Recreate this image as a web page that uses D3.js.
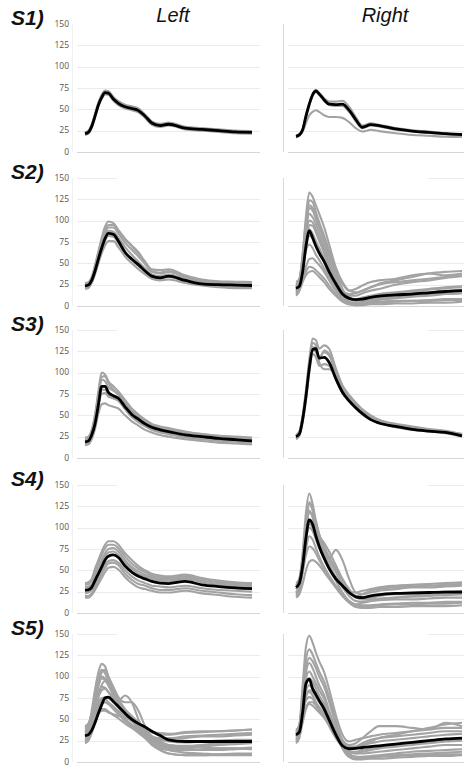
<!DOCTYPE html>
<html lang="en">
<head>
    <meta charset="UTF-8">
    <title>Left / Right traces S1-S5</title>
    <script src="https://d3js.org/d3.v7.min.js"></script>
    <style>
        body {
            margin: 0;
            background-color: #fff;
        }
        svg {
            display: block;
        }
        .tick-label {
            font-family: "Open Sans", Arial, sans-serif;
            font-size: 8.5px;
            fill: #555;
        }
        .grid {
            stroke: #ebebeb;
            stroke-width: 1px;
        }
        .trace {
            fill: none;
            stroke: #a3a3a3;
            stroke-width: 2.1px;
        }
        .mean {
            fill: none;
            stroke: #000;
            stroke-width: 2.8px;
        }
    </style>
</head>
<body>
    <div id="chart"></div>

    <script>
        // x = % of the record, shared by every trace
        const xs = [0, 2, 4, 6, 8, 10, 12, 14, 17, 20, 24, 28, 32, 36, 40, 45, 50, 60, 70, 80, 90, 100];
        const yTicks = [0, 25, 50, 75, 100, 125, 150];
        const sides = ["Left", "Right"];
        const subjects = ["S1)", "S2)", "S3)", "S4)", "S5)"];

        // S1
        const s1LeftMean = [21.5, 23, 30, 42, 55, 64, 69.5, 69, 62, 57, 53, 51, 48.5, 42, 34, 31, 32.5, 28, 26.5, 25, 23.5, 23];
        const s1LeftTraces = [
            [23, 25, 32, 45, 58, 67, 72, 71.5, 64.5, 59.5, 55.5, 53.5, 51, 44, 36, 33, 34.5, 29.5, 28, 26.5, 25, 24.5],
            [20, 21.5, 28, 40, 53, 62, 67.5, 67, 60, 55, 51, 49, 46.5, 40, 32, 29.5, 31, 26.5, 25, 23.5, 22, 21.5],
            [22, 24, 31, 43, 56, 65, 70.5, 70, 63, 58, 54, 52, 49.5, 43, 35, 32, 33.5, 29, 27.5, 26, 24.5, 24]
        ];
        const s1RightMean = [18.4, 20, 26, 42, 56, 67, 71.5, 68, 61, 56, 55.5, 56, 49, 38, 29, 32, 31, 27, 24.5, 23, 21.5, 20.5];
        const s1RightTraces = [
            [17, 19, 24, 34, 43, 47, 49, 47, 43, 41, 41, 40, 35, 28, 24, 26, 24.5, 22, 20, 19, 18, 17.5],
            [19, 21, 27, 43, 57, 68, 72.5, 69, 63, 59, 59, 60, 53, 41, 31, 33.5, 32, 28, 25.5, 24, 22, 21],
            [18, 19.5, 25, 41, 55, 66, 70.5, 67, 60, 55, 54, 54, 47, 36, 28, 31, 30, 26, 24, 22.5, 21, 20]
        ];

        // S2
        const s2LeftMean = [23.5, 24.5, 30, 41, 55, 68, 79, 85, 84, 76, 63, 55, 48.5, 41, 35, 33, 35, 30, 26, 25, 24.5, 24];
        const s2LeftTraces = [
            [26, 27, 34, 48, 64, 80, 93, 99, 97, 89, 79, 71, 63, 52, 43, 42, 43, 36, 31, 29, 28.5, 28],
            [22, 23, 29, 42, 58, 73, 85, 92, 92, 85, 74, 66, 58, 49, 40, 38, 40, 34, 29, 27, 26, 26],
            [24, 25, 31, 44, 60, 72, 82, 88, 87, 80, 69, 60, 52, 44, 37, 35, 37, 32, 28, 26, 25, 25],
            [21, 22, 27, 37, 50, 62, 71, 76, 76, 69, 58, 50, 43, 37, 32, 30, 31, 27, 24, 22, 21, 21],
            [27, 28, 33, 45, 62, 76, 88, 95, 95, 88, 78, 70, 61, 51, 41, 39, 41, 35, 30, 28, 27, 27],
            [20, 21, 28, 40, 54, 66, 77, 82, 81, 74, 62, 54, 47, 40, 34, 32, 34, 29, 25, 23, 22, 22]
        ];
        const s2RightMean = [20.8, 23, 40, 70, 88, 80, 70, 62, 52, 40, 26, 14, 9, 7.5, 8, 10, 11.5, 13, 14, 15.5, 17, 18];
        const s2RightTraces = [
            [22, 28, 60, 105, 133, 128, 118, 108, 92, 72, 45, 28, 18, 16, 18, 22, 26, 30, 34, 38, 40, 41],
            [18, 24, 52, 95, 124, 122, 110, 98, 82, 64, 40, 20, 10, 8, 10, 12, 14, 16, 18, 20, 22, 23],
            [25, 30, 55, 92, 115, 112, 102, 92, 76, 58, 36, 18, 12, 12, 15, 18, 20, 25, 28, 30, 33, 35],
            [15, 20, 45, 85, 108, 104, 96, 86, 70, 52, 30, 12, 5, 3, 3, 4, 5, 6, 6, 7, 8, 8],
            [20, 26, 50, 82, 100, 98, 90, 80, 66, 50, 30, 15, 8, 6, 7, 9, 11, 13, 15, 16, 18, 19],
            [12, 18, 40, 72, 95, 94, 86, 76, 62, 46, 26, 10, 3, 1, 1, 2, 2, 3, 3, 4, 4, 5],
            [28, 32, 55, 80, 90, 85, 76, 68, 56, 44, 30, 18, 14, 15, 18, 22, 25, 28, 30, 32, 34, 36],
            [16, 22, 42, 68, 82, 80, 72, 64, 52, 38, 22, 8, 2, 1, 2, 3, 4, 5, 6, 6, 7, 7],
            [22, 26, 44, 65, 72, 68, 60, 54, 44, 34, 22, 12, 8, 8, 9, 11, 13, 15, 17, 19, 21, 22],
            [18, 22, 34, 46, 55, 56, 52, 48, 40, 30, 18, 8, 4, 4, 5, 7, 9, 11, 12, 13, 14, 15],
            [20, 24, 32, 40, 46, 45, 42, 38, 32, 24, 14, 6, 3, 3, 4, 6, 8, 10, 12, 14, 16, 18],
            [14, 18, 28, 36, 40, 41, 38, 34, 28, 20, 12, 5, 2, 2, 3, 5, 7, 9, 11, 12, 14, 15],
            [24, 30, 60, 98, 118, 115, 104, 94, 80, 64, 44, 26, 18, 20, 24, 28, 30, 32, 36, 38, 36, 38]
        ];

        // S3
        const s3LeftMean = [19, 20, 27, 40, 62, 84, 84, 77, 73, 70, 60, 51, 45.5, 40, 36, 33, 31, 27, 25, 23, 21.5, 20];
        const s3LeftTraces = [
            [22, 23, 32, 50, 78, 100, 98, 90, 84, 78, 68, 58, 51, 45, 40, 37, 35, 31, 28, 26, 24, 23],
            [16, 17, 24, 38, 62, 80, 80, 74, 70, 67, 57, 48, 42, 37, 33, 30, 28, 24, 22, 20, 19, 18],
            [20, 21, 29, 45, 70, 92, 90, 83, 79, 75, 64, 54, 48, 42, 38, 35, 33, 29, 26, 24, 22, 21],
            [15, 16, 22, 34, 52, 63, 64, 62, 60, 58, 50, 43, 38, 33, 30, 27, 25, 22, 20, 18, 17, 16],
            [18, 19, 26, 40, 62, 75, 76, 72, 70, 68, 58, 50, 44, 38, 34, 31, 29, 25, 23, 21, 20, 19],
            [24, 25, 33, 50, 75, 95, 96, 88, 80, 74, 64, 55, 49, 43, 38, 35, 33, 30, 28, 26, 25, 24]
        ];
        const s3RightMean = [25, 28, 45, 72, 105, 127, 128, 117, 118, 112, 93, 77, 67, 59, 52, 45, 41, 37, 33.5, 31.5, 30, 26];
        const s3RightTraces = [
            [26, 30, 50, 80, 115, 140, 138, 128, 132, 128, 105, 85, 74, 65, 57, 50, 45, 40, 37, 34, 32, 28],
            [24, 27, 45, 74, 108, 130, 128, 118, 124, 120, 100, 82, 71, 62, 55, 48, 44, 39, 35, 33, 31, 27],
            [22, 26, 42, 68, 100, 122, 118, 108, 110, 108, 92, 76, 66, 58, 51, 45, 41, 36, 33, 31, 29, 25],
            [27, 31, 48, 76, 110, 135, 132, 112, 104, 104, 96, 80, 70, 61, 54, 47, 43, 38, 35, 32, 30, 27],
            [25, 28, 46, 72, 104, 126, 124, 116, 126, 122, 102, 84, 72, 63, 56, 49, 44, 39, 36, 33, 31, 28]
        ];

        // S4
        const s4LeftMean = [26.5, 27, 30, 38, 46, 54, 62, 66.5, 68, 65, 55, 48, 43, 40, 37, 35, 34.5, 37, 33, 31, 29.5, 28.5];
        const s4LeftTraces = [
            [35, 36, 40, 52, 62, 72, 80, 84, 84, 80, 70, 62, 55, 50, 46, 44, 43, 45, 41, 38, 36, 35],
            [20, 20, 23, 30, 38, 46, 53, 58, 59, 56, 46, 39, 34, 32, 29, 27, 27, 29, 26, 24, 22, 21],
            [30, 31, 34, 44, 52, 62, 70, 75, 76, 72, 62, 54, 49, 45, 42, 40, 39, 42, 38, 35, 33, 32],
            [23, 24, 27, 34, 42, 50, 57, 61, 62, 59, 50, 43, 38, 35, 32, 31, 30, 32, 29, 27, 26, 25],
            [28, 29, 32, 40, 49, 58, 66, 71, 72, 68, 59, 52, 46, 43, 40, 38, 37, 40, 36, 33, 31, 30],
            [18, 18, 21, 27, 34, 41, 48, 53, 54, 51, 42, 35, 30, 28, 26, 24, 24, 26, 23, 21, 19, 18],
            [33, 34, 38, 48, 58, 68, 76, 80, 80, 76, 66, 58, 52, 48, 44, 42, 41, 43, 40, 37, 35, 34]
        ];
        const s4RightMean = [30, 35, 55, 88, 109, 104, 90, 78, 64, 52, 40, 32, 24, 19, 18, 20, 21.5, 23, 23.5, 24, 24.5, 24.5];
        const s4RightTraces = [
            [28, 36, 70, 118, 140, 128, 108, 92, 75, 62, 48, 34, 24, 20, 22, 26, 28, 30, 31, 32, 33, 34],
            [24, 30, 62, 105, 128, 120, 102, 86, 70, 57, 42, 30, 20, 14, 13, 14, 15, 16, 16, 17, 18, 18],
            [32, 40, 66, 100, 120, 112, 96, 84, 72, 64, 74, 62, 40, 24, 22, 24, 26, 28, 30, 30, 31, 32],
            [20, 26, 50, 85, 104, 100, 88, 78, 64, 52, 38, 24, 14, 9, 8, 8, 9, 10, 10, 11, 11, 12],
            [35, 40, 60, 88, 100, 96, 86, 76, 64, 54, 42, 32, 26, 24, 26, 28, 30, 32, 33, 34, 35, 36],
            [22, 28, 48, 75, 90, 86, 76, 66, 54, 44, 32, 22, 14, 10, 9, 9, 10, 11, 12, 12, 13, 13],
            [28, 32, 48, 68, 78, 76, 70, 62, 52, 42, 30, 20, 12, 7, 6, 6, 7, 7, 8, 8, 8, 9],
            [18, 22, 34, 50, 60, 62, 60, 56, 48, 40, 30, 20, 13, 10, 12, 14, 16, 18, 19, 20, 21, 22],
            [30, 36, 58, 95, 118, 114, 100, 90, 82, 72, 56, 40, 28, 20, 18, 18, 20, 22, 22, 24, 25, 26],
            [24, 30, 56, 96, 130, 122, 106, 92, 78, 66, 52, 38, 26, 18, 16, 16, 17, 18, 20, 21, 22, 22]
        ];

        // S5
        const s5LeftMean = [31, 32, 37, 46, 57, 67, 75, 76, 71, 65, 57, 50, 45, 41, 36, 31, 26, 24, 24, 24, 24, 24];
        const s5LeftTraces = [
            [38, 42, 60, 85, 105, 115, 112, 100, 85, 70, 60, 50, 40, 32, 25, 20, 18, 16, 18, 20, 22, 24],
            [30, 34, 50, 75, 96, 108, 104, 94, 82, 72, 78, 70, 50, 34, 22, 16, 14, 14, 15, 16, 16, 17],
            [25, 28, 40, 58, 76, 90, 95, 92, 84, 74, 62, 54, 46, 38, 30, 24, 20, 18, 17, 16, 16, 15],
            [42, 45, 55, 70, 82, 88, 87, 82, 74, 66, 58, 52, 46, 40, 35, 34, 33, 35, 36, 36, 37, 38],
            [22, 25, 34, 48, 60, 68, 70, 68, 62, 56, 48, 42, 36, 30, 24, 18, 14, 11, 10, 9, 9, 9],
            [35, 38, 48, 60, 70, 75, 74, 70, 65, 60, 54, 48, 42, 36, 30, 28, 28, 30, 31, 32, 33, 34],
            [28, 30, 38, 50, 58, 62, 62, 59, 55, 51, 45, 40, 34, 28, 20, 14, 10, 8, 8, 8, 8, 8],
            [32, 36, 48, 68, 88, 100, 98, 90, 78, 66, 56, 48, 42, 36, 30, 26, 24, 23, 24, 25, 26, 26],
            [26, 29, 38, 52, 65, 73, 76, 75, 70, 64, 56, 50, 42, 32, 22, 14, 10, 8, 8, 9, 10, 10],
            [36, 40, 54, 72, 92, 105, 108, 100, 88, 76, 70, 70, 60, 42, 30, 26, 27, 28, 30, 30, 31, 32],
            [30, 33, 44, 60, 76, 84, 86, 82, 76, 68, 58, 50, 44, 36, 28, 22, 18, 18, 19, 20, 21, 22],
            [24, 26, 34, 46, 56, 60, 60, 58, 56, 54, 52, 48, 40, 32, 26, 22, 20, 19, 20, 22, 23, 24],
            [40, 44, 56, 74, 90, 98, 96, 90, 80, 70, 60, 52, 46, 40, 35, 32, 32, 34, 35, 36, 37, 38],
            [34, 37, 46, 58, 66, 70, 70, 68, 64, 58, 50, 44, 38, 32, 26, 20, 16, 14, 14, 14, 15, 16]
        ];
        const s5RightMean = [32, 35, 58, 92, 97, 86, 79, 72, 62, 49, 32, 19, 15.5, 16, 17, 18, 19, 21, 23, 25, 27, 28];
        const s5RightTraces = [
            [30, 40, 90, 135, 148, 140, 128, 118, 105, 85, 55, 32, 24, 26, 28, 30, 32, 34, 36, 38, 40, 40],
            [28, 36, 80, 120, 132, 126, 116, 106, 94, 76, 48, 24, 12, 10, 12, 14, 16, 18, 20, 22, 24, 25],
            [34, 42, 78, 110, 122, 118, 110, 100, 88, 70, 44, 26, 20, 22, 28, 36, 42, 42, 40, 38, 46, 42],
            [24, 32, 70, 104, 116, 110, 100, 90, 78, 60, 36, 16, 6, 4, 4, 5, 6, 7, 8, 8, 9, 9],
            [36, 44, 72, 98, 106, 100, 92, 84, 74, 58, 38, 24, 18, 18, 20, 22, 24, 26, 28, 30, 32, 33],
            [26, 32, 62, 90, 98, 94, 86, 78, 68, 54, 34, 18, 8, 6, 6, 7, 8, 10, 12, 13, 14, 15],
            [32, 38, 60, 84, 90, 86, 80, 72, 64, 52, 36, 22, 16, 18, 22, 26, 28, 30, 32, 34, 36, 36],
            [22, 28, 52, 76, 84, 82, 76, 70, 60, 48, 32, 16, 6, 3, 3, 4, 4, 5, 6, 7, 7, 8],
            [30, 36, 56, 78, 82, 78, 70, 64, 56, 46, 32, 20, 12, 10, 10, 11, 12, 14, 16, 18, 20, 20],
            [38, 42, 58, 72, 76, 74, 68, 62, 54, 44, 30, 18, 14, 16, 20, 24, 28, 32, 36, 40, 44, 46],
            [26, 30, 46, 62, 68, 66, 62, 58, 52, 44, 32, 20, 10, 6, 5, 6, 7, 8, 9, 10, 11, 12],
            [34, 38, 52, 64, 70, 70, 66, 60, 52, 42, 28, 18, 12, 12, 14, 16, 18, 20, 22, 24, 26, 27]
        ];

        const panelData = [
            [{ mean: s1LeftMean, traces: s1LeftTraces }, { mean: s1RightMean, traces: s1RightTraces }],
            [{ mean: s2LeftMean, traces: s2LeftTraces }, { mean: s2RightMean, traces: s2RightTraces }],
            [{ mean: s3LeftMean, traces: s3LeftTraces }, { mean: s3RightMean, traces: s3RightTraces }],
            [{ mean: s4LeftMean, traces: s4LeftTraces }, { mean: s4RightMean, traces: s4RightTraces }],
            [{ mean: s5LeftMean, traces: s5LeftTraces }, { mean: s5RightMean, traces: s5RightTraces }]
        ];

        const width = 464;
        const height = 767;
        const rowTops = [24, 178, 330, 485, 634];
        const plotH = 128;
        // plotted range / gridline span / axis line for each column
        const cols = [
            { range: [85, 252], grid: [77, 260], axisX: 72, axisColor: "#f0f0f0", title: 173 },
            { range: [296, 462], grid: [288, 464], axisX: 283, axisColor: "#d9d9d9", title: 385 }
        ];

        const svg = d3.select("#chart")
            .append("svg")
            .attr("width", width)
            .attr("height", height);

        // column headings
        svg.selectAll(".side-title")
            .data(sides)
            .enter().append("text")
            .attr("class", "side-title")
            .attr("x", (d, i) => cols[i].title)
            .attr("y", 22)
            .attr("text-anchor", "middle")
            .style("font-family", "Arial, 'Liberation Sans', sans-serif")
            .style("font-style", "italic")
            .style("font-size", "20px")
            .style("fill", "#111")
            .text(d => d);

        subjects.forEach((name, r) => {
            const top = rowTops[r];
            const y = d3.scaleLinear().domain([0, 150]).range([top + plotH, top]);

            svg.append("text")
                .attr("x", 11)
                .attr("y", top + 1)
                .style("font-family", "Arial, 'Liberation Sans', sans-serif")
                .style("font-style", "italic")
                .style("font-weight", "bold")
                .style("font-size", "21px")
                .style("fill", "#111")
                .text(name);

            // y tick labels on the left column only
            svg.append("g")
                .selectAll("text")
                .data(yTicks)
                .enter().append("text")
                .attr("class", "tick-label")
                .attr("x", 69)
                .attr("y", d => y(d))
                .attr("dy", "0.3em")
                .attr("text-anchor", "end")
                .text(d => d);

            cols.forEach((c, ci) => {
                const x = d3.scaleLinear().domain([0, 100]).range(c.range);
                const g = svg.append("g");

                // gridlines (the top one only shows as a short stub)
                g.selectAll(".grid")
                    .data(yTicks.filter(t => t > 0 && t < 150))
                    .enter().append("line")
                    .attr("class", "grid")
                    .attr("x1", c.grid[0]).attr("x2", c.grid[1])
                    .attr("y1", d => Math.round(y(d)) + 0.5)
                    .attr("y2", d => Math.round(y(d)) + 0.5);

                if (r > 0) {
                    const stub = ci === 0 ? [c.grid[0], c.grid[0] + 40] : [c.grid[1] - 36, c.grid[1]];
                    g.append("line")
                        .attr("class", "grid")
                        .attr("x1", stub[0]).attr("x2", stub[1])
                        .attr("y1", Math.round(y(150)) + 0.5)
                        .attr("y2", Math.round(y(150)) + 0.5);
                }

                // baseline and vertical axis
                g.append("line")
                    .attr("x1", c.grid[0]).attr("x2", c.grid[1])
                    .attr("y1", Math.round(y(0)) + 0.5).attr("y2", Math.round(y(0)) + 0.5)
                    .style("stroke", "#d6d6d6");
                g.append("line")
                    .attr("x1", c.axisX + 0.5).attr("x2", c.axisX + 0.5)
                    .attr("y1", y(150)).attr("y2", y(0))
                    .style("stroke", c.axisColor);

                const line = d3.line()
                    .x((d, i) => x(xs[i]))
                    .y(d => y(d))
                    .curve(d3.curveMonotoneX);

                const pd = panelData[r][ci];
                g.selectAll(".trace")
                    .data(pd.traces)
                    .enter().append("path")
                    .attr("class", "trace")
                    .attr("d", line);

                g.append("path")
                    .datum(pd.mean)
                    .attr("class", "mean")
                    .attr("d", line);
            });
        });
    </script>
</body>
</html>
